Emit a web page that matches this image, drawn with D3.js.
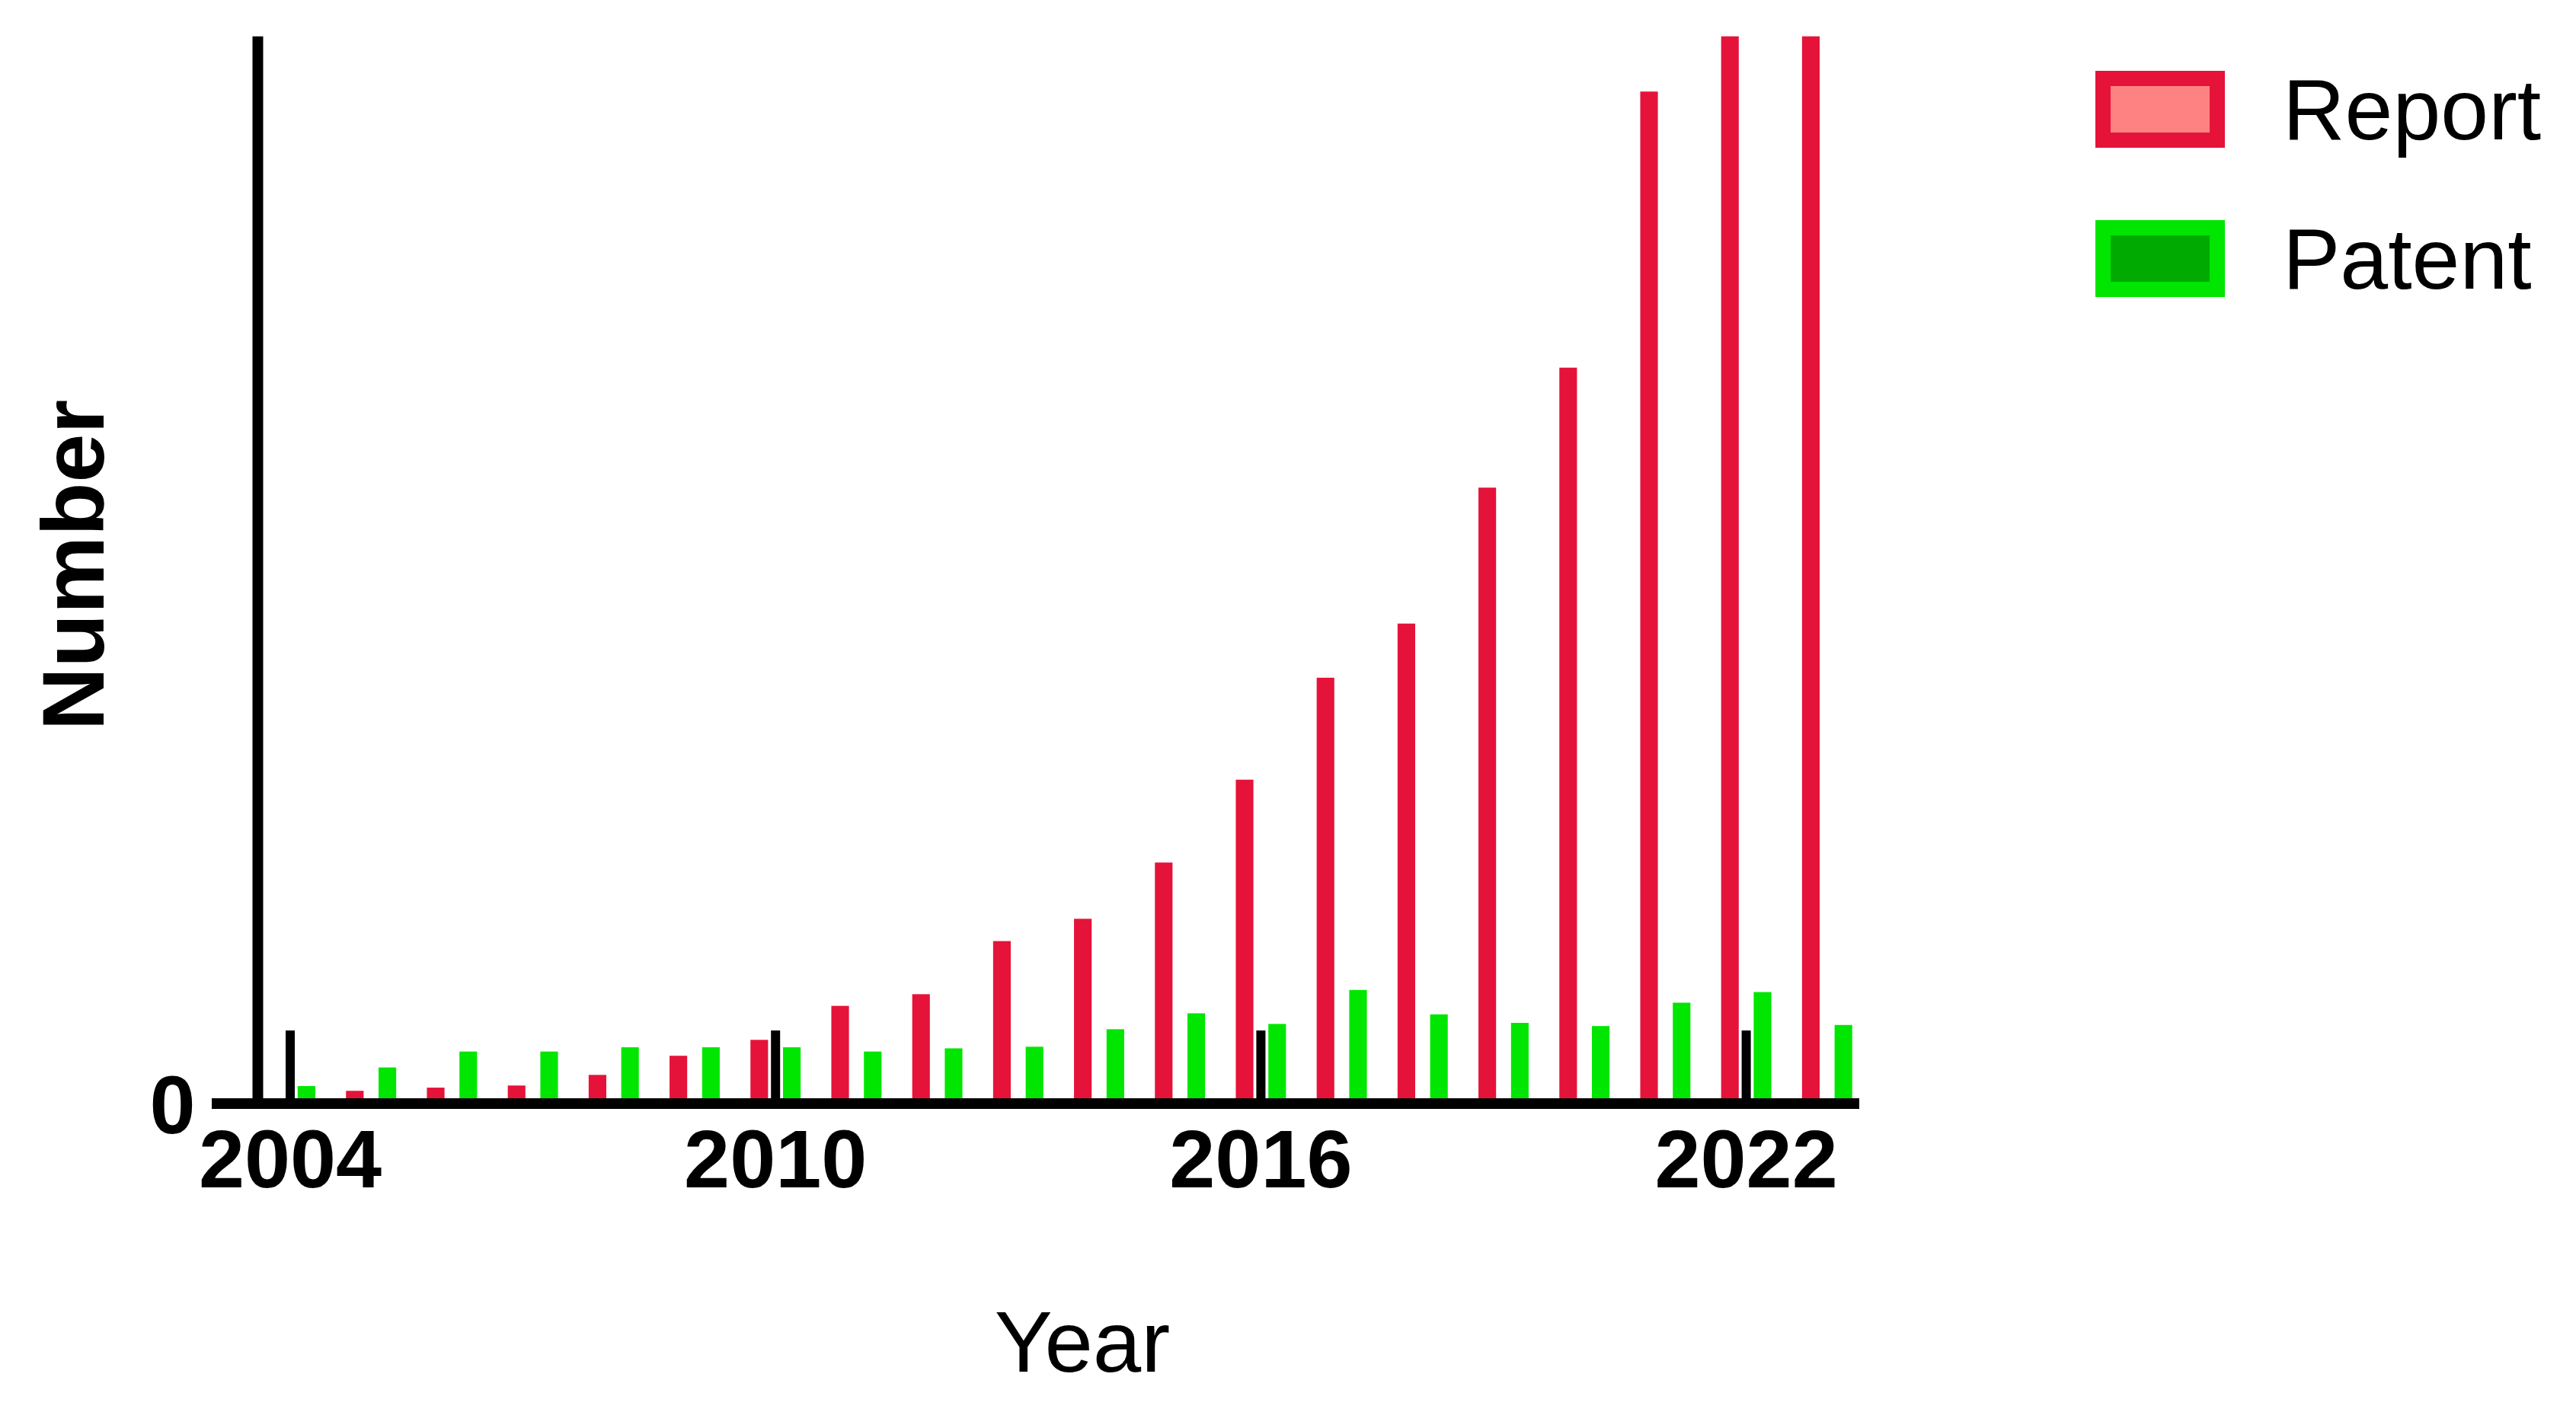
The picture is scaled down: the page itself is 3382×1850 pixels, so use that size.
<!DOCTYPE html>
<html>
<head>
<meta charset="utf-8">
<script src="https://cdn.jsdelivr.net/npm/d3@7"></script>
<style>
  html, body { margin: 0; padding: 0; background: #ffffff; }
  svg { display: block; }
</style>
</head>
<body>
<svg id="chart" width="3382" height="1850"></svg>
<script>
// ---- data (arbitrary units: 100 = top of y axis) ----
const years = [2004, 2005, 2006, 2007, 2008, 2009, 2010, 2011, 2012, 2013,
               2014, 2015, 2016, 2017, 2018, 2019, 2020, 2021, 2022, 2023];
const report = [0, 0.7, 1.0, 1.2, 2.2, 4.0, 5.5, 8.7, 9.8, 14.8,
                16.9, 22.2, 30.0, 39.6, 44.7, 57.5, 68.8, 94.8, 100, 100];
const patent = [1.15, 2.9, 4.4, 4.4, 4.8, 4.8, 4.8, 4.4, 4.7, 4.85,
                6.5, 8.0, 7.0, 10.2, 7.9, 7.1, 6.8, 9.0, 10.0, 6.9];
const seriesNames = ["Report", "Patent"];
const xTickValues = [2004, 2010, 2016, 2022];
const yTickValues = [0];
const xTitle = "Year";
const yTitle = "Number";

const colors = {
  Report: { bar: "#E5133A", legendFill: "#FF8282", legendStroke: "#E5133A" },
  Patent: { bar: "#00E600", legendFill: "#00AA00", legendStroke: "#00E600" }
};

const svg = d3.select("#chart");

// ---- scales ----
const step = 106.2;
const x = d3.scaleBand()
  .domain(years)
  .range([381 - step / 2, 381 - step / 2 + step * years.length])
  .paddingInner(0).paddingOuter(0);

const xSub = d3.scaleBand()
  .domain(seriesNames)
  .range([-42.5, 42.5])
  .paddingInner(19.5 / 42.5)
  .paddingOuter(9.5 / 42.5);

const y = d3.scaleLinear().domain([0, 100]).range([1442, 47.7]).clamp(true);

const center = yr => x(yr) + x.bandwidth() / 2;

// ---- bars ----
const rows = years.map((yr, i) => ({ year: yr, Report: report[i], Patent: patent[i] }));

const groups = svg.append("g").selectAll("g")
  .data(rows).join("g")
  .attr("transform", d => `translate(${center(d.year)},0)`);

groups.selectAll("rect")
  .data(d => seriesNames.map(k => ({ key: k, value: d[k] })))
  .join("rect")
  .attr("x", d => xSub(d.key))
  .attr("width", xSub.bandwidth())
  .attr("y", d => y(d.value))
  .attr("height", d => Math.max(0, y(0) - y(d.value)))
  .attr("fill", d => colors[d.key].bar);

// ---- axes ----
const axisY = 1456;
// x axis line (extends left past the y axis, like the reference)
svg.append("line")
  .attr("x1", 278).attr("x2", 2441)
  .attr("y1", 1449).attr("y2", 1449)
  .attr("stroke", "#000").attr("stroke-width", 14);

const xAxis = d3.axisBottom(x)
  .tickValues(xTickValues)
  .tickSizeInner(-103)
  .tickSizeOuter(0)
  .tickPadding(26);

const gx = svg.append("g")
  .attr("transform", `translate(0,${axisY})`)
  .call(xAxis);
gx.select(".domain").remove();
gx.selectAll(".tick line").attr("stroke", "#000").attr("stroke-width", 12);
gx.selectAll(".tick text")
  .attr("fill", "#000")
  .style("font-family", "'Liberation Sans', Arial, Helvetica, sans-serif")
  .style("font-weight", "bold")
  .style("font-size", "108px");

// y axis line
const yAxisX = 338.5;
svg.append("line")
  .attr("x1", yAxisX).attr("x2", yAxisX)
  .attr("y1", 47.7).attr("y2", 1456)
  .attr("stroke", "#000").attr("stroke-width", 14);

const yAxis = d3.axisLeft(y)
  .tickValues(yTickValues)
  .tickSize(0)
  .tickPadding(82);

const gy = svg.append("g")
  .attr("transform", `translate(${yAxisX},0)`)
  .call(yAxis);
gy.select(".domain").remove();
gy.selectAll(".tick text")
  .attr("fill", "#000")
  .attr("dy", "45px")
  .style("font-family", "'Liberation Sans', Arial, Helvetica, sans-serif")
  .style("font-weight", "bold")
  .style("font-size", "108px");

// ---- titles ----
svg.append("text")
  .attr("x", 1421).attr("y", 1801)
  .attr("text-anchor", "middle")
  .style("font-family", "'Liberation Sans', Arial, Helvetica, sans-serif")
  .style("font-size", "114px")
  .attr("fill", "#000")
  .text(xTitle);

svg.append("text")
  .attr("transform", "translate(136,742) rotate(-90)")
  .attr("text-anchor", "middle")
  .style("font-family", "'Liberation Sans', Arial, Helvetica, sans-serif")
  .style("font-weight", "bold")
  .style("font-size", "115px")
  .attr("fill", "#000")
  .text(yTitle);

// ---- legend ----
const legendY = { Report: 103, Patent: 299 };
const legend = svg.append("g").selectAll("g")
  .data(seriesNames).join("g");

legend.append("rect")
  .attr("x", 2761)
  .attr("y", d => legendY[d])
  .attr("width", 150)
  .attr("height", 81)
  .attr("fill", d => colors[d].legendFill)
  .attr("stroke", d => colors[d].legendStroke)
  .attr("stroke-width", 20);

legend.append("text")
  .attr("x", 2997)
  .attr("y", d => legendY[d] + 80)
  .style("font-family", "'Liberation Sans', Arial, Helvetica, sans-serif")
  .style("font-size", "113px")
  .attr("fill", "#000")
  .text(d => d);
</script>
</body>
</html>
